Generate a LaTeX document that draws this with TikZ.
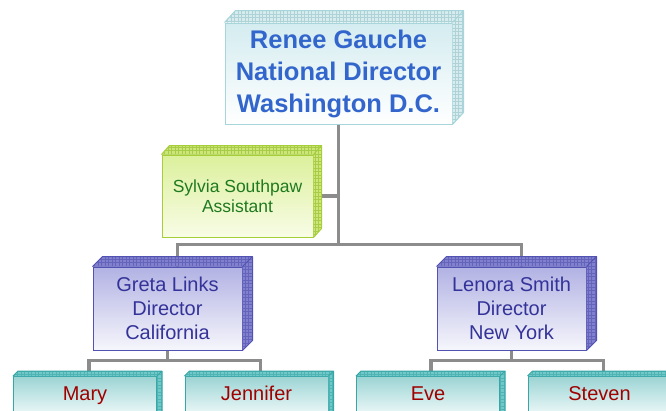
\documentclass[tikz,border=0pt]{standalone}
\usepackage{fontspec}
\setmainfont{Liberation Sans}
\usetikzlibrary{calc}
\pgfdeclarelayer{bg}
\pgfsetlayers{bg,main}
\definecolor{topfillA}{HTML}{D4ECF0}
\definecolor{topfillB}{HTML}{FFFFFF}
\definecolor{topline}{HTML}{A6D6DC}
\definecolor{topside}{HTML}{D6ECEE}
\definecolor{topgrid}{HTML}{AED2D6}
\definecolor{toptext}{HTML}{3366CC}
\definecolor{asfillA}{HTML}{DCF09C}
\definecolor{asfillB}{HTML}{F8FCE6}
\definecolor{asline}{HTML}{A6CE39}
\definecolor{asside}{HTML}{CCE67A}
\definecolor{asgrid}{HTML}{A8CC48}
\definecolor{astext}{HTML}{1F7A1F}
\definecolor{dirfillA}{HTML}{B2B2E4}
\definecolor{dirfillB}{HTML}{F6F6FC}
\definecolor{dirline}{HTML}{5252B2}
\definecolor{dirside}{HTML}{8080CC}
\definecolor{dirgrid}{HTML}{6464BC}
\definecolor{dirtext}{HTML}{333399}
\definecolor{leaffillA}{HTML}{9CD4D4}
\definecolor{leaffillB}{HTML}{F6FCFC}
\definecolor{leafline}{HTML}{38A6A6}
\definecolor{leafside}{HTML}{70C8C8}
\definecolor{leafgrid}{HTML}{50B4B4}
\definecolor{leaftext}{HTML}{A00000}
\definecolor{connc}{HTML}{8C8C8C}
\newcommand\threedfaces[6]{%
  \fill[#4] (#1.north west) -- ++(#2,-#3) -- ($(#1.north east)+(#2,-#3)$) -- ($(#1.south east)+(#2,-#3)$) -- (#1.south east) -- (#1.north east) -- cycle;
  \begin{scope}
    \clip (#1.north west) -- ++(#2,-#3) -- ($(#1.north east)+(#2,-#3)$) -- ($(#1.south east)+(#2,-#3)$) -- (#1.south east) -- (#1.north east) -- cycle;
    \draw[#5, line width=0.35pt, step=3.5pt] ($(#1.south west)+(0,10)$) grid ($(#1.north east)+(#2+3,-#3-3)$);
  \end{scope}
  \draw[#6, line width=1pt, line join=round] (#1.north west) -- ++(#2,-#3) -- ($(#1.north east)+(#2,-#3)$) -- ($(#1.south east)+(#2,-#3)$) -- (#1.south east) (#1.north east) -- ++(#2,-#3);
}
\tikzset{
  boxbase/.style={rectangle, inner sep=0pt, align=center, line width=1pt},
  topbox/.style={boxbase, top color=topfillA, bottom color=topfillB, draw=topline, text=toptext,
    font=\fontsize{25.5pt}{32pt}\selectfont\bfseries, minimum width=227pt, minimum height=101pt},
  asbox/.style={boxbase, top color=asfillA, bottom color=asfillB, draw=asline, text=astext,
    font=\fontsize{17.5pt}{19.5pt}\selectfont, minimum width=151pt, minimum height=82pt},
  dirbox/.style={boxbase, top color=dirfillA, bottom color=dirfillB, draw=dirline, text=dirtext,
    font=\fontsize{20pt}{24pt}\selectfont, minimum width=149pt, minimum height=83pt},
  leafbox/.style={boxbase, top color=leaffillA, bottom color=leaffillB, draw=leafline, text=leaftext,
    font=\fontsize{20pt}{24pt}\selectfont, minimum width=143pt, text height=24pt, text depth=18pt, anchor=north},
  conn/.style={draw=connc, line width=3.5pt}
}
\begin{document}
\begin{tikzpicture}[x=1pt,y=-1pt]
\useasboundingbox (0,0) rectangle (666,410);
% nodes
\node[topbox] (top) at (338.5,73.5) {Renee Gauche\\National Director\\Washington D.C.};
\threedfaces{top}{11}{12}{topside}{topgrid}{topline}
\node[asbox] (asst) at (237.5,196) {Sylvia Southpaw\\Assistant};
\threedfaces{asst}{8}{9}{asside}{asgrid}{asline}
\node[dirbox] (greta) at (167.5,308.5) {Greta Links\\Director\\California};
\threedfaces{greta}{10}{10}{dirside}{dirgrid}{dirline}
\node[dirbox] (lenora) at (511.5,308.5) {Lenora Smith\\Director\\New York};
\threedfaces{lenora}{10}{10}{dirside}{dirgrid}{dirline}
\node[leafbox] (mary) at (85,376) {Mary};
\threedfaces{mary}{5}{5}{leafside}{leafgrid}{leafline}
\node[leafbox] (jen) at (256.5,376) {Jennifer};
\threedfaces{jen}{5}{5}{leafside}{leafgrid}{leafline}
\node[leafbox] (eve) at (428,376) {Eve};
\threedfaces{eve}{5}{5}{leafside}{leafgrid}{leafline}
\node[leafbox] (steven) at (599.5,376) {Steven};
\threedfaces{steven}{5}{5}{leafside}{leafgrid}{leafline}
% connectors
\begin{pgfonlayer}{bg}
\coordinate (jt) at ($(top.south)+(0,120)$);
\draw[conn] (top.south) -- (jt);
\draw[conn] ([xshift=10pt]greta.north) |- (jt) -| ([xshift=10pt]lenora.north);
\draw[conn] (asst.east) -- (asst.east -| jt);
\coordinate (jg) at ($(greta.south)+(0,10)$);
\draw[conn] (greta.south) -- (jg);
\draw[conn] ([xshift=4pt]mary.north) |- (jg) -| ([xshift=4pt]jen.north);
\coordinate (jl) at ($(lenora.south)+(0,10)$);
\draw[conn] (lenora.south) -- (jl);
\draw[conn] ([xshift=3pt]eve.north) |- (jl) -| ([xshift=4pt]steven.north);
\end{pgfonlayer}
\end{tikzpicture}
\end{document}
